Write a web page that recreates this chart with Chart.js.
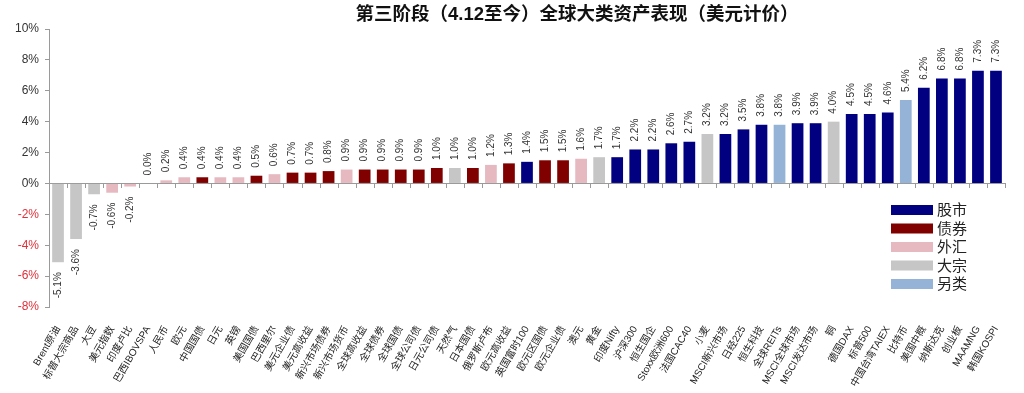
<!DOCTYPE html>
<html>
<head>
<meta charset="utf-8">
<script src="https://cdn.jsdelivr.net/npm/chart.js@4"></script>
<style>
  body { margin: 0; background: #fff; }
  canvas { display: block; }
</style>
</head>
<body>
<canvas id="assets" width="1024" height="393"></canvas>
<script>
const categories = ['Brent原油', '标普大宗商品', '大豆', '美元指数', '印度卢比', '巴西IBOVSPA', '人民币', '欧元', '中国国债', '日元',
    '英镑', '美国国债', '巴西里尔', '美元企业债', '美元高收益', '新兴市场债券', '新兴市场货币', '全球高收益', '全球债券', '全球国债',
    '全球公司债', '日元公司债', '天然气', '日本国债', '俄罗斯卢布', '欧元高收益', '英国富时100', '欧元区国债', '欧元企业债', '澳元',
    '黄金', '印度Nifty', '沪深300', '恒生国企', 'Stoxx欧洲600', '法国CAC40', '小麦', 'MSCI新兴市场', '日经225', '恒生科技',
    '全球REITs', 'MSCI全球市场', 'MSCI发达市场', '铜', '德国DAX', '标普500', '中国台湾TAIEX', '比特币', '美国中概', '纳斯达克',
    '创业板', 'MAAMNG', '韩国KOSPI']
const values = [-5.1, -3.6, -0.7, -0.6, -0.2, 0.0, 0.2, 0.4, 0.4, 0.4,
    0.4, 0.5, 0.6, 0.7, 0.7, 0.8, 0.9, 0.9, 0.9, 0.9,
    0.9, 1.0, 1.0, 1.0, 1.2, 1.3, 1.4, 1.5, 1.5, 1.6,
    1.7, 1.7, 2.2, 2.2, 2.6, 2.7, 3.2, 3.2, 3.5, 3.8,
    3.8, 3.9, 3.9, 4.0, 4.5, 4.5, 4.6, 5.4, 6.2, 6.8,
    6.8, 7.3, 7.3]
const assetClass = ['大宗', '大宗', '大宗', '外汇', '外汇', '股市', '外汇', '外汇', '债券', '外汇',
    '外汇', '债券', '外汇', '债券', '债券', '债券', '外汇', '债券', '债券', '债券',
    '债券', '债券', '大宗', '债券', '外汇', '债券', '股市', '债券', '债券', '外汇',
    '大宗', '股市', '股市', '股市', '股市', '股市', '大宗', '股市', '股市', '股市',
    '另类', '股市', '股市', '大宗', '股市', '股市', '股市', '另类', '股市', '股市',
    '股市', '股市', '股市']
const classNames = ['股市', '债券', '外汇', '大宗', '另类']
const yTicks = [-8, -6, -4, -2, 0, 2, 4, 6, 8, 10]
const chartTitle = '第三阶段（4.12至今）全球大类资产表现（美元计价）'

const classColors = {
    '股市': '#000080',
    '债券': '#800000',
    '外汇': '#E6B9C0',
    '大宗': '#C6C6C6',
    '另类': '#95B3D7'
}
const fontFamily = '"Liberation Sans", "Noto Sans CJK SC", sans-serif'

// title, zero line with ticks, value labels and legend
const extras = {
    id: 'extras',
    beforeDatasetsDraw(chart) {
        const ctx = chart.ctx
        const area = chart.chartArea
        const x = chart.scales.x
        const y0 = chart.scales.y.getPixelForValue(0)
        ctx.save()
        ctx.strokeStyle = '#9a9a9a'
        ctx.lineWidth = 1
        ctx.beginPath()
        ctx.moveTo(area.left, Math.round(y0) + 0.5)
        ctx.lineTo(area.right, Math.round(y0) + 0.5)
        for (let i = 0; i <= categories.length; i++) {
            const px = Math.round(x.getPixelForValue(i - 0.5)) + 0.5
            ctx.moveTo(px, Math.round(y0))
            ctx.lineTo(px, Math.round(y0) + 5)
        }
        ctx.stroke()
        ctx.restore()
    },
    afterDatasetsDraw(chart) {
        const ctx = chart.ctx
        const meta = chart.getDatasetMeta(0)
        ctx.save()
        ctx.font = '10px ' + fontFamily
        ctx.fillStyle = '#333'
        ctx.textBaseline = 'middle'
        meta.data.forEach((bar, i) => {
            const v = values[i]
            const text = v.toFixed(1) + '%'
            ctx.save()
            if (v >= 0) {
                ctx.translate(bar.x, bar.y - 8)
                ctx.rotate(-Math.PI / 2)
                ctx.textAlign = 'left'
            } else {
                ctx.translate(bar.x, bar.y + 10)
                ctx.rotate(-Math.PI / 2)
                ctx.textAlign = 'right'
            }
            ctx.fillText(text, 0, 0)
            ctx.restore()
        })
        ctx.restore()
    },
    afterDraw(chart) {
        const ctx = chart.ctx
        ctx.save()
        ctx.font = 'bold 18.5px ' + fontFamily
        ctx.fillStyle = '#111'
        ctx.textAlign = 'center'
        ctx.textBaseline = 'middle'
        ctx.fillText(chartTitle, 577, 15)

        ctx.font = '15px ' + fontFamily
        ctx.textAlign = 'left'
        classNames.forEach((name, i) => {
            const cy = 210 + i * 18.5
            ctx.fillStyle = classColors[name]
            ctx.fillRect(891, cy - 5, 42, 10)
            ctx.fillStyle = '#222'
            ctx.fillText(name, 937, cy + 1)
        })
        ctx.restore()
    }
}

const ctx = document.getElementById('assets').getContext('2d')
const myChart = new Chart(ctx, {
    type: 'bar',
    data: {
        labels: categories,
        datasets: [{
            data: values,
            backgroundColor: assetClass.map(c => classColors[c]),
            borderWidth: 0,
            barPercentage: 0.65,
            categoryPercentage: 1
        }]
    },
    options: {
        responsive: false,
        animation: false,
        devicePixelRatio: 1,
        layout: { padding: { top: 29, right: 19, bottom: 0, left: 0 } },
        plugins: {
            legend: { display: false },
            tooltip: { enabled: false }
        },
        scales: {
            x: {
                grid: { display: false },
                border: { display: false },
                ticks: {
                    autoSkip: false,
                    maxRotation: 60,
                    minRotation: 60,
                    padding: 9,
                    color: '#222',
                    font: { family: fontFamily, size: 10 }
                },
                afterFit: s => { s.height = 86 }
            },
            y: {
                min: -8,
                max: 10,
                afterBuildTicks: s => { s.ticks = yTicks.map(v => ({ value: v })) },
                grid: { drawOnChartArea: false, color: '#9a9a9a', tickLength: 4 },
                border: { color: '#9a9a9a' },
                ticks: {
                    padding: 6,
                    callback: v => v + '%',
                    color: c => c.tick.value < 0 ? '#E0303A' : '#333',
                    font: { family: fontFamily, size: 12 }
                },
                afterFit: s => { s.width = 49 }
            }
        }
    },
    plugins: [extras]
})
</script>
</body>
</html>
